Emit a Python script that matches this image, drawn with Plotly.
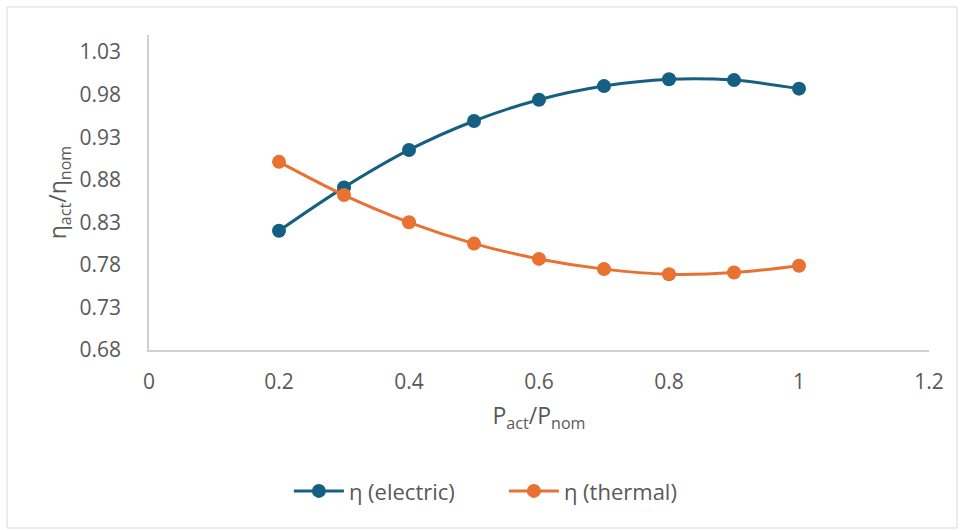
import plotly.graph_objects as go

load_ratio = [0.2, 0.3, 0.4, 0.5, 0.6, 0.7, 0.8, 0.9, 1.0]
eta_electric = [0.820, 0.871, 0.915, 0.949, 0.974, 0.990, 0.998, 0.997, 0.987]
eta_thermal = [0.901, 0.862, 0.830, 0.805, 0.787, 0.775, 0.769, 0.771, 0.779]

x_tickvals = [0, 0.2, 0.4, 0.6, 0.8, 1.0, 1.2]
x_ticktext = ["0", "0.2", "0.4", "0.6", "0.8", "1", "1.2"]
y_tickvals = [0.68, 0.73, 0.78, 0.83, 0.88, 0.93, 0.98, 1.03]
y_ticktext = ["0.68", "0.73", "0.78", "0.83", "0.88", "0.93", "0.98", "1.03"]

BLUE = "#156082"
ORANGE = "#E97132"
TXT = "#595959"
FONT = "Open Sans, Lato, sans-serif"

fig = go.Figure()
fig.add_trace(go.Scatter(x=load_ratio, y=eta_electric, mode="lines+markers",
                         name="η (electric)",
                         line=dict(color=BLUE, width=3, shape="spline", smoothing=1),
                         marker=dict(color=BLUE, size=14)))
fig.add_trace(go.Scatter(x=load_ratio, y=eta_thermal, mode="lines+markers",
                         name="η (thermal)",
                         line=dict(color=ORANGE, width=3, shape="spline", smoothing=1),
                         marker=dict(color=ORANGE, size=14)))

fig.update_layout(
    width=964, height=530,
    margin=dict(l=149, r=35, t=35, b=180),
    paper_bgcolor="white", plot_bgcolor="white",
    font=dict(family=FONT, color=TXT, size=21),
    showlegend=True,
    legend=dict(orientation="h", x=0.455, xanchor="center", y=-0.448, yanchor="middle",
                font=dict(size=22, color=TXT), itemwidth=50,
                entrywidth=150, entrywidthmode="pixels"),
    xaxis=dict(range=[0, 1.2], tickvals=x_tickvals, ticktext=x_ticktext,
               showgrid=False, zeroline=False, showline=True, linecolor="#D0D0D0",
               linewidth=1.5, ticks="", ticklabelstandoff=12,
               tickfont=dict(size=21, color=TXT),
               title=dict(text="P<sub>act</sub>/P<sub>nom</sub>", font=dict(size=23, color=TXT),
                          standoff=14)),
    yaxis=dict(range=[0.68, 1.05], tickvals=y_tickvals, ticktext=y_ticktext,
               showgrid=False, zeroline=False, showline=True, linecolor="#D0D0D0",
               linewidth=1.5, ticks="", ticklabelstandoff=22,
               tickfont=dict(size=21, color=TXT),
               title=dict(text="η<sub>act</sub>/η<sub>nom</sub>", font=dict(size=23, color=TXT),
                          standoff=6)),
    shapes=[dict(type="rect", xref="paper", yref="paper",
                 x0=-0.182, x1=1.0359, y0=-0.565, y1=1.0889,
                 line=dict(color="#D9D9D9", width=1), fillcolor="rgba(0,0,0,0)", layer="below")],
)

fig.write_html("out.html")
